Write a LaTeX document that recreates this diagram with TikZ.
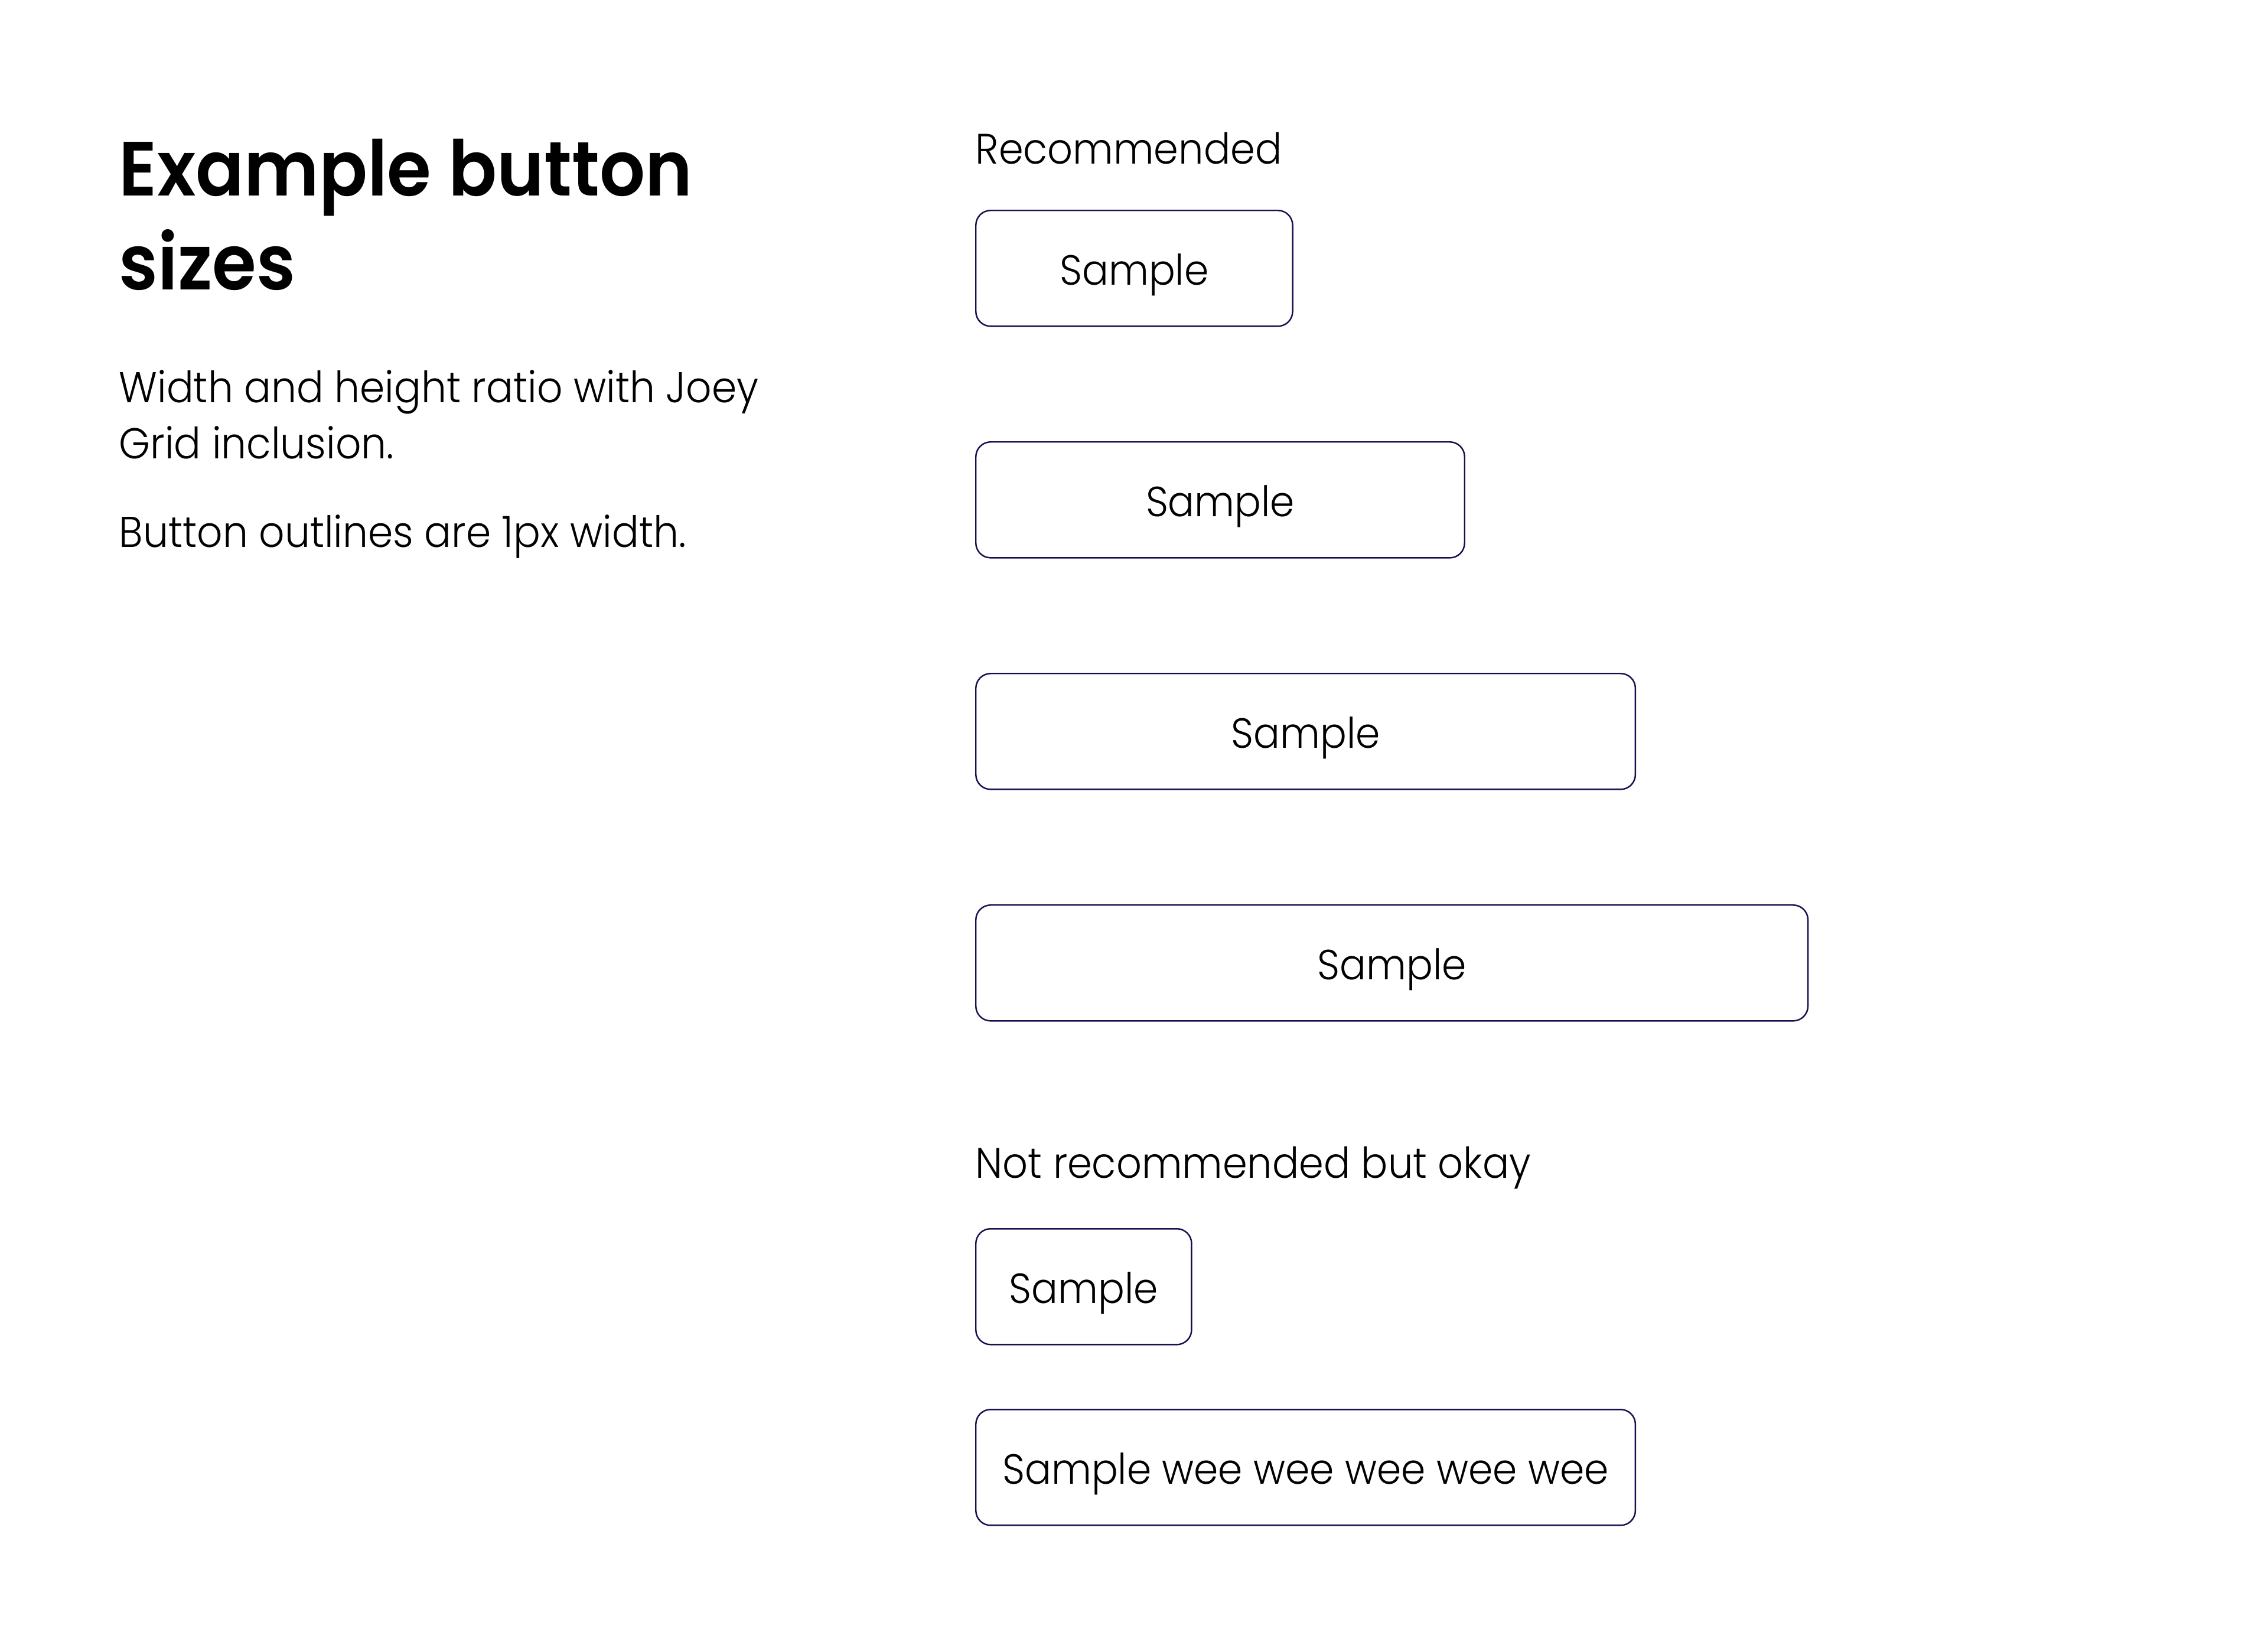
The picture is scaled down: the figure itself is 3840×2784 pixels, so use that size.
\documentclass[tikz,border=0pt]{standalone}
\usepackage{fontspec}
\setmainfont{Poppins Light}[FakeStretch=0.93]
\newfontfamily\titlefont{Poppins SemiBold}[FakeStretch=0.93]
\definecolor{btnline}{HTML}{15104F}
\begin{document}
\begin{tikzpicture}[x=0.01cm,y=-0.01cm,
  btn/.style={draw=btnline, line width=0.7pt, rounded corners=0.25cm, inner sep=0pt,
    minimum height=1.96cm, anchor=north west, font=\fontsize{20.3}{24}\selectfont,
    text height=17pt, text depth=1pt},
  lbl/.style={anchor=base west, inner sep=0pt, font=\fontsize{20.5}{25}\selectfont},
  body/.style={anchor=base west, inner sep=0pt, font=\fontsize{20.75}{25}\selectfont}]
\useasboundingbox (0,0) rectangle (3840,2784);
\node[anchor=base west, inner sep=0pt, font=\titlefont\fontsize{37}{45}\selectfont] (t1) at (201,331) {Example button};
\node[anchor=base west, inner sep=0pt, font=\titlefont\fontsize{37}{45}\selectfont] (t2) at (201,490) {sizes};
\node[body] (b1) at (201,681) {Width and height ratio with Joey};
\node[body] (b2) at (201,776) {Grid inclusion.};
\node[body] (b3) at (201,926) {Button outlines are 1px width.};
\node[lbl] (rec) at (1651,277) {Recommended};
\node[btn, minimum width=5.36cm] (s1) at (1651,355) {Sample};
\node[btn, minimum width=8.27cm] (s2) at (1651,747) {Sample};
\node[btn, minimum width=11.16cm] (s3) at (1651,1139) {Sample};
\node[btn, minimum width=14.08cm] (s4) at (1651,1531) {Sample};
\node[lbl] (notrec) at (1651,1994) {Not recommended but okay};
\node[btn, minimum width=3.65cm] (s5) at (1651,2079) {Sample};
\node[btn, minimum width=11.16cm] (s6) at (1651,2385) {Sample wee wee wee wee wee};
\end{tikzpicture}
\end{document}
